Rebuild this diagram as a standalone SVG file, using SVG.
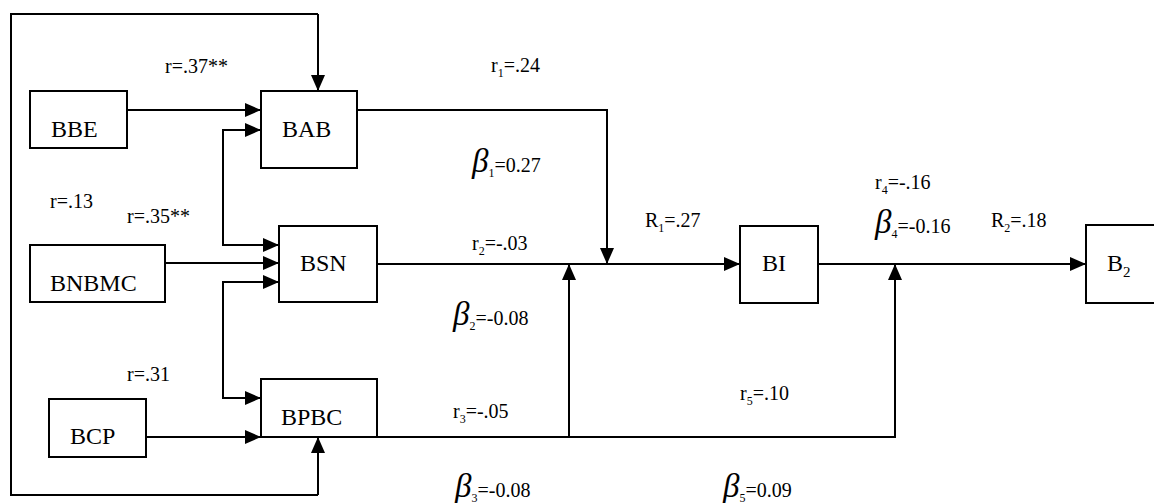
<svg xmlns="http://www.w3.org/2000/svg" width="1154" height="503" viewBox="0 0 1154 503">
<defs>
<marker id="arr" markerUnits="userSpaceOnUse" markerWidth="16" markerHeight="14" refX="16" refY="7" orient="auto">
<path d="M0,0 L16,7 L0,14 Z" fill="#000"/>
</marker>
<style>
.box{fill:#fff;stroke:#000;stroke-width:2}
.nl{font-size:24px}
.lb{font-size:20px}
.sub{font-size:12px}
.beta{font-size:33px;font-style:italic}
.ln{fill:none;stroke:#000;stroke-width:2}
.ar{fill:none;stroke:#000;stroke-width:2;marker-end:url(#arr)}
</style>
</defs>
<rect width="1154" height="503" fill="#fff"/>
<g id="connectors">
<path class="ln" d="M318,14 L11,14 L11,495 L318,495"/>
<path class="ar" d="M318,14 L318,91"/>
<path class="ar" d="M318,495 L318,437"/>
<path class="ar" d="M127,110 L261,110"/>
<path class="ln" d="M223,130 L223,245"/>
<path class="ar" d="M222,130 L261,130"/>
<path class="ar" d="M222,245 L279,245"/>
<path class="ln" d="M223,282 L223,398"/>
<path class="ar" d="M222,282 L279,282"/>
<path class="ar" d="M222,398 L261,398"/>
<path class="ar" d="M165,263 L279,263"/>
<path class="ar" d="M146,437 L261,437"/>
<path class="ar" d="M357,110 L607,110 L607,264"/>
<path class="ar" d="M377,264 L740,264"/>
<path class="ar" d="M377,437 L895,437 L895,264"/>
<path class="ar" d="M569,437 L569,264"/>
<path class="ar" d="M818,264 L1086,264"/>
</g>
<g font-family="Liberation Serif, Times New Roman, serif" fill="#000">
<g id="node-BBE"><rect class="box" x="30" y="91" width="97" height="57"/><text class="nl" x="51" y="137">BBE</text></g>
<g id="node-BAB"><rect class="box" x="261" y="91" width="96" height="77"/><text class="nl" x="282" y="137">BAB</text></g>
<g id="node-BNBMC"><rect class="box" x="30" y="245" width="135" height="57"/><text class="nl" x="50" y="291">BNBMC</text></g>
<g id="node-BSN"><rect class="box" x="279" y="226" width="98" height="76"/><text class="nl" x="300" y="271">BSN</text></g>
<g id="node-BCP"><rect class="box" x="49" y="399" width="97" height="58"/><text class="nl" x="70" y="444">BCP</text></g>
<g id="node-BPBC"><rect class="box" x="261" y="379" width="116" height="58"/><text class="nl" x="281" y="425">BPBC</text></g>
<g id="node-BI"><rect class="box" x="740" y="226" width="78" height="77"/><text class="nl" x="762" y="271">BI</text></g>
<g id="node-B2"><rect class="box" x="1086" y="225" width="80" height="78"/><text class="nl" x="1107" y="271">B<tspan font-size="15px" dy="6">2</tspan></text></g>
</g>
<g id="labels" font-family="Liberation Serif, Times New Roman, serif" fill="#000">
<text class="lb" x="165" y="73">r=.37**</text>
<text class="lb" x="50" y="208">r=.13</text>
<text class="lb" x="127" y="223">r=.35**</text>
<text class="lb" x="127" y="381">r=.31</text>
<text class="lb" x="491" y="72">r<tspan class="sub" dy="5">1</tspan><tspan dy="-5">=.24</tspan></text>
<text class="lb" x="472" y="172"><tspan class="beta">β</tspan><tspan class="sub" dy="5">1</tspan><tspan dy="-5">=0.27</tspan></text>
<text class="lb" x="645" y="227">R<tspan class="sub" dy="5">1</tspan><tspan dy="-5">=.27</tspan></text>
<text class="lb" x="472" y="250">r<tspan class="sub" dy="5">2</tspan><tspan dy="-5">=-.03</tspan></text>
<text class="lb" x="453" y="325"><tspan class="beta">β</tspan><tspan class="sub" dy="5">2</tspan><tspan dy="-5">=-0.08</tspan></text>
<text class="lb" x="453" y="418">r<tspan class="sub" dy="5">3</tspan><tspan dy="-5">=-.05</tspan></text>
<text class="lb" x="455" y="497"><tspan class="beta">β</tspan><tspan class="sub" dy="5">3</tspan><tspan dy="-5">=-0.08</tspan></text>
<text class="lb" x="740" y="400">r<tspan class="sub" dy="5">5</tspan><tspan dy="-5">=.10</tspan></text>
<text class="lb" x="723" y="497"><tspan class="beta">β</tspan><tspan class="sub" dy="5">5</tspan><tspan dy="-5">=0.09</tspan></text>
<text class="lb" x="875" y="189">r<tspan class="sub" dy="5">4</tspan><tspan dy="-5">=-.16</tspan></text>
<text class="lb" x="875" y="233"><tspan class="beta">β</tspan><tspan class="sub" dy="5">4</tspan><tspan dy="-5">=-0.16</tspan></text>
<text class="lb" x="991" y="227">R<tspan class="sub" dy="5">2</tspan><tspan dy="-5">=.18</tspan></text>
</g>
</svg>
